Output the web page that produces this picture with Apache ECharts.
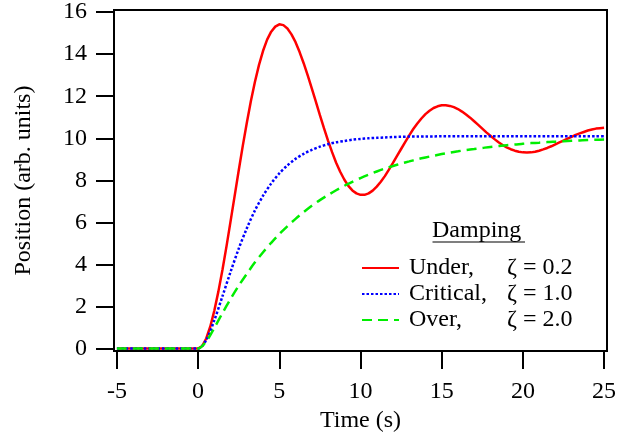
<!DOCTYPE html>
<html>
<head>
<meta charset="utf-8">
<script src="https://cdn.jsdelivr.net/npm/echarts@6/dist/echarts.min.js"></script>
<style>
  html, body { margin: 0; padding: 0; background: #fff; }
  #chart { width: 634px; height: 438px; }
</style>
</head>
<body>
<div id="chart"></div>
<script>
// 欠阻尼曲线的时间点 (s)
var timeFine = [-5, -1,
    0, 0.25, 0.5, 0.75, 1, 1.25, 1.5, 1.75, 2, 2.25, 2.5, 2.75, 3, 3.25, 3.5, 3.75, 4, 4.25, 4.5, 4.75,
    5, 5.25, 5.5, 5.75, 6, 6.25, 6.5, 6.75, 7, 7.25, 7.5, 7.75, 8, 8.25, 8.5, 8.75, 9, 9.25, 9.5, 9.75,
    10, 10.25, 10.5, 10.75, 11, 11.25, 11.5, 11.75, 12, 12.25, 12.5, 12.75, 13, 13.25, 13.5, 13.75, 14, 14.25, 14.5, 14.75,
    15, 15.25, 15.5, 15.75, 16, 16.25, 16.5, 16.75, 17, 17.25, 17.5, 17.75, 18, 18.25, 18.5, 18.75, 19, 19.25, 19.5, 19.75,
    20, 20.25, 20.5, 20.75, 21, 21.25, 21.5, 21.75, 22, 22.25, 22.5, 22.75, 23, 23.25, 23.5, 23.75, 24, 24.25, 24.5, 24.75, 25];
// 欠阻尼 zeta = 0.2
var under = [0, 0,
    0, 0.12, 0.48, 1.05, 1.81, 2.72, 3.75, 4.87, 6.06, 7.26, 8.47, 9.64, 10.74, 11.77, 12.69, 13.49, 14.16, 14.69, 15.07, 15.31,
    15.42, 15.38, 15.22, 14.94, 14.57, 14.10, 13.57, 12.99, 12.37, 11.74, 11.10, 10.48, 9.89, 9.34, 8.84, 8.41, 8.04, 7.74, 7.52, 7.38,
    7.31, 7.31, 7.38, 7.51, 7.70, 7.93, 8.20, 8.51, 8.83, 9.16, 9.49, 9.82, 10.14, 10.44, 10.70, 10.94, 11.15, 11.31, 11.44, 11.52,
    11.57, 11.57, 11.54, 11.48, 11.39, 11.27, 11.13, 10.98, 10.81, 10.64, 10.46, 10.28, 10.12, 9.96, 9.81, 9.68, 9.57, 9.48, 9.41, 9.36,
    9.33, 9.32, 9.33, 9.36, 9.41, 9.47, 9.54, 9.62, 9.71, 9.80, 9.89, 9.98, 10.07, 10.16, 10.23, 10.30, 10.37, 10.42, 10.46, 10.48, 10.50];

// 另外两条曲线的时间点 (s)
var time = [-5, -1, 0, 0.5, 1, 1.5, 2, 2.5, 3, 3.5, 4, 4.5, 5, 5.5, 6, 6.5, 7, 7.5, 8, 8.5, 9, 9.5, 10,
    10.5, 11, 11.5, 12, 12.5, 13, 13.5, 14, 14.5, 15, 15.5, 16, 16.5, 17, 17.5, 18, 18.5, 19, 19.5, 20,
    20.5, 21, 21.5, 22, 22.5, 23, 23.5, 24, 24.5, 25];
// 临界阻尼 zeta = 1.0
var critical = [0, 0, 0, 0.41, 1.35, 2.49, 3.65, 4.75, 5.72, 6.57, 7.27, 7.85, 8.33, 8.71, 9.02, 9.26, 9.45, 9.60, 9.72, 9.81, 9.87, 9.93, 9.97,
    10.00, 10.02, 10.04, 10.06, 10.07, 10.08, 10.08, 10.09, 10.09, 10.1, 10.1, 10.1, 10.1, 10.1, 10.1, 10.1, 10.1, 10.1, 10.1, 10.1,
    10.1, 10.1, 10.1, 10.1, 10.1, 10.1, 10.1, 10.1, 10.1, 10.1];
// 过阻尼 zeta = 2.0
var over = [0, 0, 0, 0.34, 0.99, 1.69, 2.36, 2.99, 3.56, 4.10, 4.58, 5.03, 5.45, 5.82, 6.17, 6.49, 6.79, 7.06, 7.30, 7.53, 7.74, 7.93, 8.11,
    8.27, 8.42, 8.56, 8.68, 8.80, 8.90, 9.00, 9.09, 9.17, 9.25, 9.32, 9.38, 9.44, 9.49, 9.54, 9.59, 9.63, 9.67, 9.70, 9.74,
    9.77, 9.79, 9.82, 9.84, 9.86, 9.88, 9.90, 9.92, 9.93, 9.94];

var names = ['Under', 'Critical', 'Over'];
var zetas = ['0.2', '1.0', '2.0'];
var xTicks = [-5, 0, 5, 10, 15, 20, 25];
var yTicks = [0, 2, 4, 6, 8, 10, 12, 14, 16];

var font = '"Liberation Serif", "Times New Roman", serif';

function pairs(t, arr) {
    return t.map(function (v, i) { return [v, arr[i]]; });
}

var chart = echarts.init(document.getElementById('chart'), null, { renderer: 'canvas' });

var option = {
    animation: false,
    backgroundColor: '#fff',
    grid: {
        left: 114, top: 10, width: 493, height: 342,
        show: true, borderColor: '#000', borderWidth: 2,
        backgroundColor: 'transparent'
    },
    xAxis: {
        type: 'value',
        min: -5.18, max: 25.18,
        name: 'Time (s)',
        nameLocation: 'middle',
        nameGap: 56,
        nameTextStyle: { color: '#000', fontSize: 24, fontFamily: font },
        axisLine: { onZero: false, lineStyle: { color: '#000', width: 2 } },
        axisTick: { length: 18, lineStyle: { color: '#000', width: 2 }, customValues: xTicks },
        axisLabel: { customValues: xTicks, margin: 29, color: '#000', fontSize: 24, fontFamily: font },
        splitLine: { show: false }
    },
    yAxis: {
        type: 'value',
        min: -0.12, max: 16.1,
        name: 'Position (arb. units)',
        nameLocation: 'middle',
        nameGap: 78,
        nameTextStyle: { color: '#000', fontSize: 24, fontFamily: font },
        axisLine: { onZero: false, lineStyle: { color: '#000', width: 2 } },
        axisTick: { length: 18, lineStyle: { color: '#000', width: 2 }, customValues: yTicks },
        axisLabel: { customValues: yTicks, margin: 27, color: '#000', fontSize: 24, fontFamily: font },
        splitLine: { show: false }
    },
    legend: {
        orient: 'vertical',
        left: 356,
        top: 251,
        itemWidth: 37,
        itemHeight: 14,
        itemGap: 2,
        data: names,
        itemStyle: { opacity: 0 },
        formatter: function (name) {
            return '{a|' + name + ',}{b|ζ = ' + zetas[names.indexOf(name)] + '}';
        },
        textStyle: {
            color: '#000', fontSize: 24, fontFamily: font,
            rich: {
                a: { width: 98, padding: [0, 0, 0, 5], fontSize: 24, fontFamily: font, lineHeight: 22, color: '#000' },
                b: { fontSize: 24, fontFamily: font, lineHeight: 22, color: '#000' }
            }
        }
    },
    graphic: [
        { type: 'text', left: 432, top: 219, style: { text: 'Damping', font: '24px ' + font, fill: '#000' } },
        { type: 'line', shape: { x1: 432.5, y1: 242, x2: 525, y2: 242 }, style: { stroke: '#000', lineWidth: 1.2 } }
    ],
    series: [
        {
            name: 'Under', type: 'line', data: pairs(timeFine, under),
            symbol: 'none',
            lineStyle: { color: '#ff0000', width: 2.5 }, itemStyle: { color: '#ff0000' }
        },
        {
            name: 'Critical', type: 'line', data: pairs(time, critical),
            symbol: 'none', smooth: 0.3,
            lineStyle: { color: '#0000ff', width: 2.5, type: [2.5, 2] }, itemStyle: { color: '#0000ff' }
        },
        {
            name: 'Over', type: 'line', data: pairs(time, over),
            symbol: 'none', smooth: 0.3,
            lineStyle: { color: '#00ee00', width: 2.5, type: [10, 6] }, itemStyle: { color: '#00ee00' }
        }
    ]
};

chart.setOption(option);
</script>
</body>
</html>
